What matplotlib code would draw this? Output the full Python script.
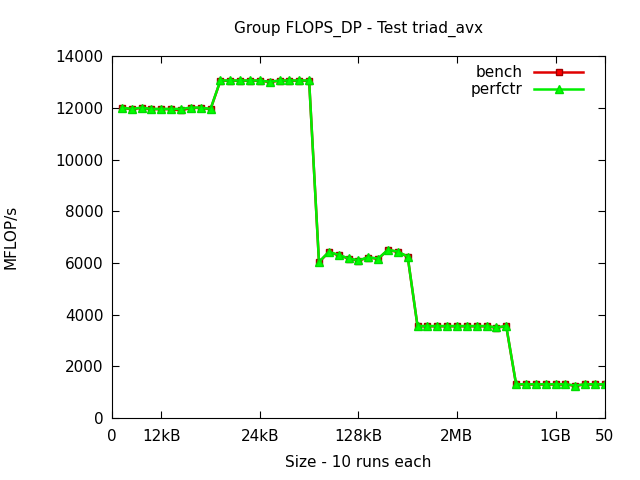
import matplotlib
matplotlib.use("Agg")
import matplotlib.pyplot as plt

# run index, 10 runs per size
runs = list(range(1, 51))

bench = [12000, 11950, 12000, 11950, 11950, 11950, 11900, 12000, 12000, 11950,
         13050, 13050, 13050, 13050, 13050, 13000, 13050, 13050, 13050, 13050,
         6030, 6420, 6300, 6170, 6090, 6210, 6160, 6500, 6430, 6240,
         3550, 3550, 3550, 3550, 3550, 3550, 3550, 3550, 3500, 3550,
         1300, 1300, 1300, 1300, 1300, 1300, 1250, 1300, 1300, 1300]

perfctr = [12010, 11960, 12010, 11960, 11960, 11960, 11960, 12010, 12010, 11960,
           13060, 13060, 13060, 13060, 13060, 13010, 13060, 13060, 13060, 13060,
           6040, 6430, 6310, 6180, 6100, 6220, 6170, 6510, 6440, 6250,
           3560, 3560, 3560, 3560, 3560, 3560, 3560, 3560, 3510, 3560,
           1310, 1310, 1310, 1310, 1310, 1310, 1260, 1310, 1310, 1310]

xtick_pos = [0, 5, 15, 25, 35, 45, 50]
xtick_labels = ["0", "12kB", "24kB", "128kB", "2MB", "1GB", "50"]
ytick_pos = list(range(0, 14001, 2000))

fig = plt.figure(figsize=(6.4, 4.8), dpi=100)
ax = fig.add_axes([0.175, 0.129, 0.77, 0.754])

ax.plot(runs, bench, color="#e00000", lw=1.8, marker="s", ms=5,
        mfc="#ff0000", mec="#a00000", label="bench")
ax.plot(runs, perfctr, color="#00ee00", lw=1.8, marker="^", ms=6,
        mfc="#00ff00", mec="#00dd00", label="perfctr")

ax.set_xlim(0, 50)
ax.set_ylim(0, 14000)
ax.set_xticks(xtick_pos)
ax.set_xticklabels(xtick_labels)
ax.set_yticks(ytick_pos)
ax.tick_params(direction="in", top=True, right=True, labelsize=11, length=5, pad=6)
ax.tick_params(axis="x", pad=8)

ax.set_title("Group FLOPS_DP - Test triad_avx", fontsize=11, pad=17)
ax.set_xlabel("Size - 10 runs each", fontsize=11, labelpad=8)
ax.set_ylabel("MFLOP/s", fontsize=11, labelpad=27)

ax.legend(loc="upper right", bbox_to_anchor=(0.975, 1.0), markerfirst=False,
          frameon=False, fontsize=11, handlelength=3.2, borderaxespad=0.2,
          labelspacing=0.1)

fig.savefig("out.png", dpi=100)
